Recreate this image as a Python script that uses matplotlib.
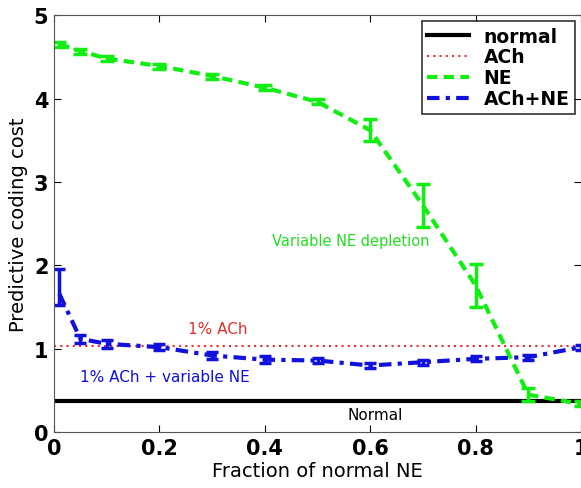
import matplotlib
matplotlib.use("Agg")
import matplotlib.pyplot as plt
from matplotlib.lines import Line2D

# data
frac = [0.01, 0.05, 0.1, 0.2, 0.3, 0.4, 0.5, 0.6, 0.7, 0.8, 0.9, 1.0]
ne_cost = [4.65, 4.57, 4.48, 4.39, 4.27, 4.13, 3.96, 3.62, 2.72, 1.76, 0.45, 0.34]
ne_err = [0.03, 0.03, 0.03, 0.03, 0.03, 0.03, 0.03, 0.13, 0.26, 0.26, 0.08, 0.03]
achne_cost = [1.66, 1.12, 1.06, 1.02, 0.92, 0.87, 0.86, 0.80, 0.84, 0.88, 0.90, 1.02]
achne_err_lo = [0.13, 0.05, 0.05, 0.04, 0.04, 0.04, 0.03, 0.03, 0.03, 0.03, 0.03, 0.03]
achne_err_hi = [0.30, 0.05, 0.05, 0.04, 0.04, 0.04, 0.03, 0.03, 0.03, 0.03, 0.03, 0.03]
ach_level = 1.03
normal_level = 0.37

green = '#11ee11'
text_green = '#22dd22'
blue = '#1111dd'
red = '#e03030'

ne_ls = (0, (2.5, 1.5))
achne_ls = (0, (3, 1.5, 1, 1.5))
ach_ls = (0, (1, 2))

fig = plt.figure(figsize=(5.81, 4.89), dpi=100)
ax = fig.add_axes([0.093, 0.114, 0.907, 0.853])

ax.plot([0, 1], [normal_level, normal_level], color='black', lw=3)
ax.plot([0, 1], [ach_level, ach_level], color=red, lw=1.5, ls=ach_ls)
ax.errorbar(frac, ne_cost, yerr=ne_err, color=green, lw=3, ls=ne_ls,
            elinewidth=2.5, capsize=5, capthick=2.5)
ax.errorbar(frac, achne_cost, yerr=[achne_err_lo, achne_err_hi], color=blue, lw=3, ls=achne_ls,
            elinewidth=2.5, capsize=4, capthick=2.5)

ax.text(0.563, 2.3, 'Variable NE depletion', color=text_green, fontsize=10.5, ha='center', va='center')
ax.text(0.31, 1.24, '1% ACh', color=red, fontsize=11, ha='center', va='center')
ax.text(0.21, 0.67, '1% ACh + variable NE', color=blue, fontsize=11, ha='center', va='center')
ax.text(0.61, 0.21, 'Normal', color='black', fontsize=11, ha='center', va='center')

ax.set_xlim(0, 1)
ax.set_ylim(0, 5)
ax.set_xticks([0, 0.2, 0.4, 0.6, 0.8, 1])
ax.set_xticklabels(['0', '0.2', '0.4', '0.6', '0.8', '1'])
ax.set_yticks([0, 1, 2, 3, 4, 5])
ax.tick_params(direction='in', top=True, right=True, labelsize=15, length=5, pad=4)
for lbl in ax.get_xticklabels() + ax.get_yticklabels():
    lbl.set_fontweight('bold')
ax.set_xlabel('Fraction of normal NE', fontsize=14, labelpad=2)
ax.set_ylabel('Predictive coding cost', fontsize=14, labelpad=4)
for s in ax.spines.values():
    s.set_color('#555555')

handles = [
    Line2D([], [], color='black', lw=3),
    Line2D([], [], color=red, lw=1.5, ls=ach_ls),
    Line2D([], [], color=green, lw=3, ls=ne_ls),
    Line2D([], [], color=blue, lw=3, ls=achne_ls),
]
labels = ['normal', 'ACh', 'NE', 'ACh+NE']
leg = ax.legend(handles, labels, loc='upper right', prop={'weight': 'bold', 'size': 13.5},
                frameon=True, fancybox=False, edgecolor='black', handlelength=2.2,
                borderpad=0.3, labelspacing=0.1, handletextpad=0.8, borderaxespad=0,
                bbox_to_anchor=(0.989, 0.986))
leg.get_frame().set_linewidth(1.2)

fig.savefig('out.png', dpi=100)
